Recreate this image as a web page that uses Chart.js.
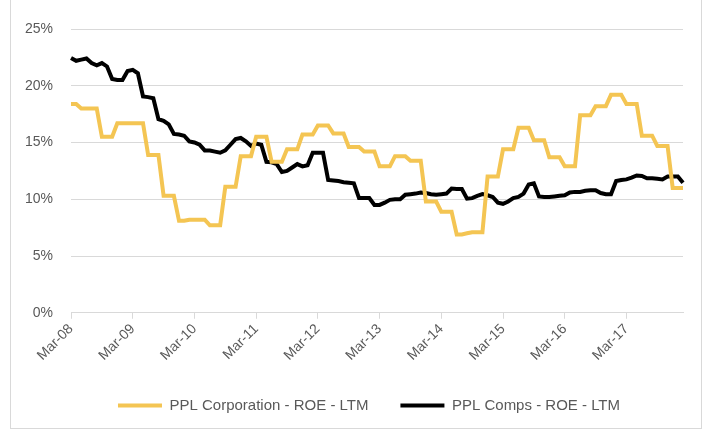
<!DOCTYPE html>
<html>
<head>
    <title>PPL ROE LTM</title>
    <script src="https://cdn.jsdelivr.net/npm/chart.js"></script>
    <style>
        body { margin: 0; background: #ffffff; }
        .frame { position: absolute; left: 10px; top: -1px; width: 690px; height: 428px; border: 1px solid #d9d9d9; }
        canvas { position: absolute; left: 0; top: 0; }
    </style>
</head>
<body>
    <div class="frame"></div>
    <canvas id="roeChart" width="707" height="431"></canvas>

<script>
// Meses: Mar-08 .. Feb-18 (120 puntos mensuales)
const monthNames = ['Jan','Feb','Mar','Apr','May','Jun','Jul','Aug','Sep','Oct','Nov','Dec'];
const months = [];
for (let i = 0; i < 120; i++) {
    const m = (2 + i) % 12;
    const y = 8 + Math.floor((2 + i) / 12);
    months.push(monthNames[m] + '-' + String(y).padStart(2, '0'));
}

// Etiquetas visibles en el eje X
const tickLabels = ['Mar-08','Mar-09','Mar-10','Mar-11','Mar-12','Mar-13','Mar-14','Mar-15','Mar-16','Mar-17'];

// PPL Corporation - ROE - LTM (%)
const pplCorp = [
    18.4, 18.4, 18.0,  18.0, 18.0, 18.0,  15.5, 15.5, 15.5,  16.7, 16.7, 16.7,
    16.7, 16.7, 16.7,  13.9, 13.9, 13.9,  10.3, 10.3, 10.3,   8.1,  8.1,  8.2,
     8.2,  8.2,  8.2,   7.7,  7.7,  7.7,  11.1, 11.1, 11.1,  13.8, 13.8, 13.8,
    15.5, 15.5, 15.5,  13.3, 13.3, 13.3,  14.4, 14.4, 14.4,  15.7, 15.7, 15.7,
    16.5, 16.5, 16.5,  15.8, 15.8, 15.8,  14.6, 14.6, 14.6,  14.2, 14.2, 14.2,
    12.9, 12.9, 12.9,  13.8, 13.8, 13.8,  13.4, 13.4, 13.4,   9.8,  9.8,  9.8,
     8.9,  8.9,  8.9,   6.9,  6.9,  7.0,   7.1,  7.1,  7.1,  12.0, 12.0, 12.0,
    14.4, 14.4, 14.4,  16.3, 16.3, 16.3,  15.2, 15.2, 15.2,  13.7, 13.7, 13.7,
    12.9, 12.9, 12.9,  17.4, 17.4, 17.4,  18.2, 18.2, 18.2,  19.2, 19.2, 19.2,
    18.4, 18.4, 18.4,  15.6, 15.6, 15.6,  14.7, 14.7, 14.7,  11.0, 11.0, 11.0
];

// PPL Comps - ROE - LTM (%)
const pplComps = [
    22.45, 22.2, 22.3, 22.4, 22.0, 21.8, 22.0, 21.7, 20.6, 20.5, 20.5, 21.3,
    21.4, 21.1, 19.05, 19.0, 18.9, 17.05, 16.9, 16.6, 15.75, 15.7, 15.6, 15.1,
    15.0, 14.8, 14.3, 14.3, 14.2, 14.1, 14.3, 14.8, 15.3, 15.4, 15.1, 14.7,
    14.9, 14.8, 13.3, 13.25, 13.1, 12.4, 12.5, 12.8, 13.1, 12.9, 13.0, 14.1,
    14.1, 14.1, 11.7, 11.65, 11.6, 11.5, 11.45, 11.4, 10.1, 10.1, 10.1, 9.5,
    9.5, 9.7, 9.95, 10.0, 10.0, 10.4, 10.45, 10.5, 10.6, 10.55, 10.45, 10.4,
    10.45, 10.5, 10.95, 10.9, 10.9, 10.05, 10.1, 10.3, 10.45, 10.35, 10.2, 9.7,
    9.6, 9.8, 10.1, 10.2, 10.5, 11.3, 11.4, 10.25, 10.2, 10.2, 10.25, 10.3,
    10.35, 10.6, 10.65, 10.65, 10.75, 10.8, 10.8, 10.55, 10.45, 10.45, 11.6, 11.7,
    11.75, 11.9, 12.1, 12.05, 11.85, 11.85, 11.8, 11.75, 12.0, 12.0, 12.0, 11.45
];

const gridColor = '#d9d9d9';
const textColor = '#595959';
const fontFamily = "'Liberation Sans', Arial, sans-serif";

// desplaza la leyenda un poco a la derecha, como en el original
const legendShift = {
    id: 'legendShift',
    afterLayout(chart) {
        chart.legend.left += 24;
        chart.legend.right += 24;
    }
};

new Chart(document.getElementById('roeChart'), {
    type: 'line',
    data: {
        labels: months,
        datasets: [{
            label: 'PPL Corporation - ROE - LTM',
            data: pplCorp,
            borderColor: '#f4c553',
            backgroundColor: '#f4c553',
            borderWidth: 4,
            pointRadius: 0,
            tension: 0
        },
        {
            label: 'PPL Comps - ROE - LTM',
            data: pplComps,
            borderColor: '#000000',
            backgroundColor: '#000000',
            borderWidth: 4,
            pointRadius: 0,
            tension: 0
        }]
    },
    plugins: [legendShift],
    options: {
        responsive: false,
        animation: false,
        layout: { padding: { left: 7, right: 24, top: 29, bottom: 8 } },
        plugins: {
            tooltip: { enabled: false },
            legend: {
                position: 'bottom',
                labels: {
                    color: textColor,
                    font: { family: fontFamily, size: 15 },
                    boxWidth: 44,
                    boxHeight: 4,
                    padding: 32,
                    generateLabels: chart => chart.data.datasets.map((d, i) => ({
                        text: d.label,
                        fillStyle: d.borderColor,
                        strokeStyle: d.borderColor,
                        lineWidth: 0,
                        fontColor: textColor,
                        datasetIndex: i,
                        hidden: false
                    }))
                }
            }
        },
        scales: {
            x: {
                grid: {
                    drawOnChartArea: false,
                    tickLength: 6,
                    color: ctx => (ctx.index % 12 === 0 ? gridColor : 'rgba(0,0,0,0)')
                },
                border: { display: true, color: gridColor },
                ticks: {
                    autoSkip: false,
                    maxRotation: 45,
                    minRotation: 45,
                    padding: 2,
                    color: textColor,
                    font: { family: fontFamily, size: 14 },
                    callback: (value, index) => (index % 12 === 0 ? tickLabels[index / 12] : '')
                }
            },
            y: {
                min: 0,
                max: 25,
                grid: { color: gridColor, drawTicks: false },
                border: { display: false },
                ticks: {
                    stepSize: 5,
                    padding: 18,
                    color: textColor,
                    font: { family: fontFamily, size: 14 },
                    callback: value => value + '%'
                }
            }
        }
    }
});
</script>
</body>
</html>
